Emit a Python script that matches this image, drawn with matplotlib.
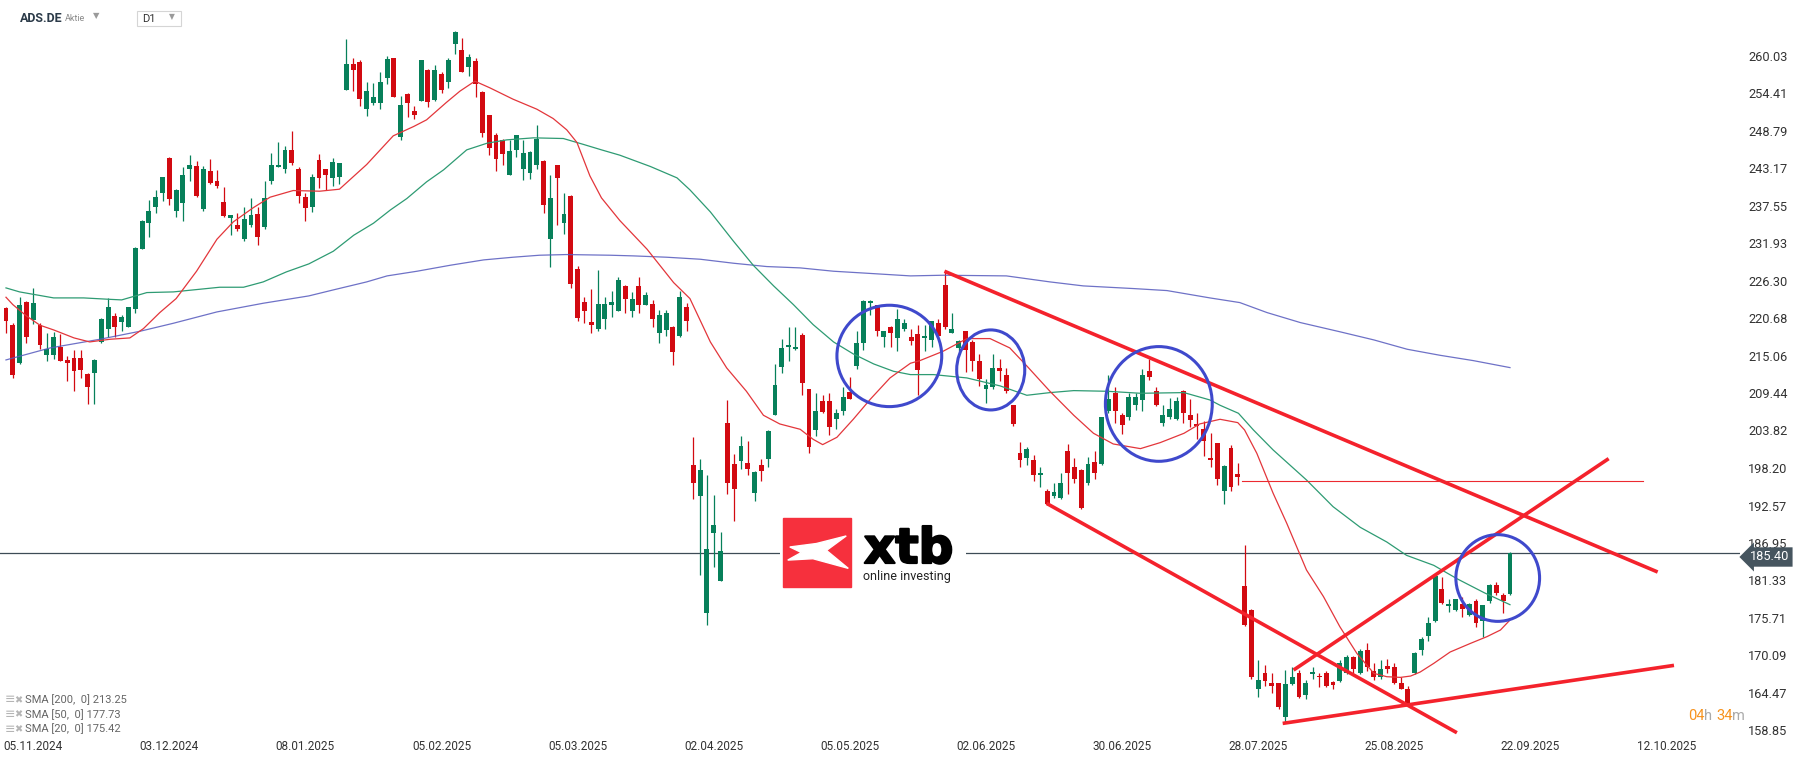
import numpy as np
import matplotlib
matplotlib.use('Agg')
import matplotlib.pyplot as plt
import matplotlib.patheffects as pe
from matplotlib.patches import Ellipse, Rectangle, Polygon

plt.rcParams['font.family'] = ['Roboto', 'DejaVu Sans']

# daily candles ADS.DE, index 0 = 30.10.2024
opens = [222.2, 219.7, 213.9, 223.1, 220.4, 219.7, 215.2, 215.2, 216.3, 214.4,
         214.7, 214.7, 212.3, 212.4, 217.1, 219.1, 221.0, 220.1, 219.4, 222.1,
         231.1, 235.0, 237.3, 239.5, 244.7, 236.8, 238.0, 243.0, 243.5, 237.0,
         242.7, 241.3, 238.1, 235.7, 234.7, 232.6, 234.6, 236.3, 234.3, 241.3,
         243.4, 243.0, 245.9, 243.0, 238.9, 237.4, 244.4, 243.0, 241.7, 241.8,
         254.9, 258.8, 259.1, 252.1, 253.0, 253.0, 256.7, 259.6, 247.9, 254.3,
         251.8, 253.3, 257.9, 253.4, 257.2, 256.1, 261.8, 260.8, 258.3, 259.2,
         254.6, 251.1, 248.1, 247.4, 242.2, 245.9, 243.0, 242.5, 243.6, 244.3,
         232.6, 243.6, 234.9, 239.0, 228.0, 223.1, 220.1, 219.1, 220.6, 222.7,
         221.8, 225.5, 221.7, 225.5, 222.7, 222.8, 218.4, 218.9, 219.4, 218.0,
         222.3, 198.7, 194.0, 176.5, 188.4, 181.3, 204.9, 198.8, 199.2, 199.0,
         194.4, 198.7, 199.5, 206.2, 213.3, 216.3, 216.0, 218.1, 210.0, 203.9,
         208.2, 208.2, 205.6, 206.8, 209.6, 213.5, 216.9, 222.9, 222.6, 217.8,
         219.4, 217.7, 219.1, 217.8, 218.3, 217.7, 217.4, 220.0, 225.7, 218.5,
         216.2, 218.7, 217.1, 214.3, 210.0, 210.4, 213.2, 212.2, 207.6, 200.5,
         199.7, 199.4, 197.1, 194.7, 194.0, 193.7, 200.8, 198.4, 197.9, 195.9,
         199.1, 198.8, 206.7, 209.4, 206.1, 205.9, 207.6, 208.4, 212.7, 209.8,
         204.9, 205.8, 205.6, 209.8, 206.2, 204.8, 204.1, 199.7, 202.0, 194.8,
         201.2, 197.3, 180.5, 176.9, 165.0, 167.5, 166.0, 165.9, 160.8, 165.8,
         167.5, 164.1, 167.3, 167.0, 167.4, 166.1, 166.3, 167.4, 169.8, 167.4,
         170.9, 167.8, 166.8, 168.5, 168.3, 166.0, 165.1, 167.4, 170.9, 173.0,
         175.3, 180.1, 177.5, 176.9, 177.8, 176.1, 178.3, 175.3, 178.2, 180.7,
         179.2, 179.3]
highs = [222.4, 219.9, 223.9, 223.3, 225.2, 220.0, 218.4, 218.6, 218.3, 215.0,
         215.9, 215.9, 212.4, 214.6, 220.7, 223.7, 221.5, 221.2, 222.4, 231.4,
         235.4, 238.4, 239.9, 241.9, 244.8, 240.0, 243.4, 245.2, 244.2, 243.5,
         244.5, 242.9, 240.4, 236.2, 236.5, 237.3, 238.7, 237.3, 241.3, 245.5,
         247.1, 246.5, 248.7, 243.4, 239.5, 242.3, 245.3, 243.1, 244.7, 244.0,
         262.5, 259.6, 259.4, 256.1, 255.9, 257.5, 260.0, 259.7, 254.0, 254.4,
         252.5, 259.4, 258.0, 258.6, 257.6, 259.6, 263.7, 262.6, 260.2, 259.6,
         254.7, 251.2, 248.5, 247.5, 247.4, 248.2, 247.4, 245.7, 249.6, 244.4,
         242.2, 243.7, 239.5, 239.1, 228.5, 223.8, 225.1, 227.9, 223.8, 224.7,
         226.8, 225.6, 224.6, 226.8, 224.6, 223.4, 221.9, 221.9, 219.5, 224.7,
         222.9, 202.8, 199.6, 197.2, 194.1, 188.6, 208.4, 200.3, 203.0, 202.2,
         197.7, 199.6, 203.9, 213.8, 217.5, 219.3, 219.3, 218.4, 210.1, 209.5,
         209.1, 209.5, 207.0, 210.3, 211.9, 218.7, 223.4, 223.4, 222.7, 218.8,
         219.5, 222.1, 220.5, 219.1, 219.7, 219.7, 220.3, 220.5, 227.7, 221.5,
         217.4, 218.8, 217.4, 215.3, 211.6, 215.3, 214.6, 213.2, 207.7, 202.1,
         201.4, 200.2, 198.4, 195.1, 196.0, 197.5, 201.8, 199.7, 198.0, 199.9,
         200.8, 205.9, 212.2, 210.3, 206.4, 209.4, 209.4, 213.1, 214.5, 210.4,
         207.6, 208.7, 208.8, 209.9, 208.5, 206.4, 205.2, 203.4, 202.0, 198.6,
         201.6, 199.0, 186.6, 177.0, 169.4, 168.6, 167.4, 166.0, 167.9, 168.3,
         167.9, 166.4, 168.4, 167.4, 167.8, 166.3, 169.4, 170.1, 170.0, 171.1,
         172.0, 169.0, 169.4, 169.5, 168.9, 166.9, 165.5, 170.6, 172.9, 175.8,
         182.2, 181.8, 178.6, 178.6, 178.9, 177.9, 178.6, 177.7, 180.8, 181.1,
         179.4, 185.6]
lows = [218.4, 211.7, 213.8, 216.9, 219.8, 216.1, 214.3, 214.6, 214.2, 211.3,
        209.8, 211.7, 207.8, 207.8, 217.0, 217.8, 217.8, 218.8, 219.3, 221.5,
        231.0, 232.8, 236.5, 238.3, 237.7, 235.9, 235.3, 241.2, 238.9, 236.8,
        240.8, 240.2, 235.9, 233.2, 233.8, 232.3, 234.4, 231.7, 234.1, 240.8,
        243.3, 242.5, 243.6, 238.0, 235.3, 236.6, 240.2, 239.9, 240.5, 240.8,
        254.8, 254.7, 252.5, 251.0, 252.7, 252.0, 255.8, 253.8, 247.4, 250.9,
        250.6, 253.2, 252.4, 253.2, 254.4, 255.2, 260.2, 257.5, 257.0, 253.8,
        247.9, 245.2, 242.7, 243.7, 242.1, 244.9, 241.4, 241.5, 243.1, 236.5,
        228.3, 234.7, 233.3, 225.2, 220.2, 219.9, 218.4, 218.8, 219.1, 220.8,
        221.7, 221.4, 220.8, 221.5, 222.6, 219.3, 216.9, 218.0, 213.7, 217.8,
        218.8, 193.5, 182.2, 174.7, 183.4, 181.3, 194.3, 190.2, 198.0, 197.2,
        193.2, 196.3, 198.3, 206.1, 212.4, 214.3, 215.9, 209.2, 200.4, 203.0,
        206.5, 203.1, 204.0, 206.2, 208.5, 213.1, 215.9, 221.2, 218.0, 216.3,
        216.3, 215.7, 218.8, 216.6, 209.1, 215.7, 216.3, 217.9, 219.0, 218.5,
        215.7, 212.6, 212.8, 210.5, 207.9, 210.1, 211.3, 209.5, 204.5, 198.4,
        198.7, 196.3, 195.3, 192.7, 193.7, 193.5, 194.3, 195.9, 192.1, 195.7,
        196.6, 198.7, 206.4, 204.9, 203.3, 205.4, 206.9, 206.7, 211.4, 207.5,
        204.5, 205.5, 205.4, 204.9, 204.3, 202.5, 200.0, 198.4, 195.7, 192.8,
        194.7, 195.7, 174.5, 166.5, 163.9, 165.5, 164.5, 162.0, 160.1, 165.7,
        163.7, 163.5, 166.6, 165.4, 165.4, 165.1, 166.1, 167.3, 167.5, 167.3,
        167.8, 166.4, 166.5, 167.4, 165.8, 165.0, 162.8, 167.3, 170.1, 172.3,
        175.1, 177.8, 176.6, 176.8, 175.8, 176.0, 174.4, 172.9, 178.0, 179.2,
        176.4, 179.1]
closes = [220.3, 212.2, 222.7, 217.8, 222.9, 216.7, 216.1, 217.8, 214.3, 214.0,
          212.7, 212.9, 210.3, 214.4, 220.6, 222.3, 219.4, 220.9, 222.3, 231.2,
          235.3, 236.7, 238.8, 241.8, 238.6, 239.9, 242.1, 243.7, 239.0, 243.0,
          241.0, 240.5, 236.0, 236.2, 234.0, 235.6, 236.2, 232.9, 238.7, 243.6,
          243.7, 245.9, 243.9, 239.0, 237.2, 241.8, 241.7, 242.2, 244.1, 243.9,
          258.8, 257.9, 253.5, 254.7, 253.8, 256.1, 259.5, 253.9, 252.6, 253.0,
          251.1, 259.3, 253.1, 257.8, 254.9, 259.3, 263.5, 257.6, 259.8, 255.7,
          248.5, 246.2, 244.5, 245.3, 245.8, 248.1, 245.5, 245.6, 247.6, 237.7,
          238.7, 241.7, 236.3, 225.8, 220.7, 221.8, 219.6, 222.8, 222.8, 223.1,
          226.4, 223.5, 223.5, 222.7, 224.2, 220.6, 221.2, 221.4, 215.6, 223.8,
          220.3, 195.9, 197.9, 186.1, 189.7, 185.7, 196.0, 195.0, 201.5, 198.1,
          197.6, 197.8, 203.7, 210.7, 216.2, 216.7, 216.4, 211.0, 201.4, 206.7,
          206.6, 204.4, 206.5, 208.8, 208.6, 216.9, 223.3, 223.2, 218.8, 218.7,
          218.5, 220.5, 220.0, 217.2, 212.9, 218.0, 220.2, 218.0, 219.4, 219.0,
          217.2, 215.9, 214.2, 211.6, 210.7, 213.2, 212.7, 209.7, 204.8, 199.4,
          201.1, 197.2, 197.5, 192.8, 194.6, 195.9, 197.5, 196.5, 192.2, 198.8,
          197.5, 205.8, 208.5, 206.7, 204.6, 208.8, 208.9, 212.2, 211.9, 207.6,
          206.1, 207.0, 208.2, 206.5, 205.4, 204.5, 202.3, 199.4, 196.6, 198.5,
          195.4, 196.9, 174.6, 166.8, 166.4, 166.3, 165.5, 162.4, 165.8, 166.8,
          163.8, 166.0, 167.5, 166.8, 165.5, 165.6, 169.0, 169.8, 168.0, 170.8,
          168.4, 166.8, 168.0, 168.0, 165.9, 165.1, 162.9, 170.5, 172.5, 174.9,
          182.0, 177.9, 177.8, 178.5, 177.0, 177.8, 174.9, 177.6, 180.6, 179.4,
          178.3, 185.4]

# moving averages (candle index, value)
sma20_idx = [0, 1, 3, 5, 7, 10, 12.3, 15.3, 18.2, 20.2, 22.6, 25, 28, 31, 33.4, 36.3, 38.8, 42.2, 46.1, 49,
             53, 56.9, 59.9, 61.8, 64.7, 66.7, 68.9, 71.1, 74.5, 78, 80.4, 82.4, 83.9, 85.8, 87.5, 90.2, 94.2,
             98.1, 100.5, 103.5, 105.9, 108.8, 111.3, 113.7, 116.7, 118.6, 120, 122.1, 124.5, 127, 129.9, 132.9,
             134.3, 137.7, 141.2, 144.6, 147.5, 150, 153.4, 156.9, 159.8, 162.7, 166.7, 169.6, 173.1, 175.4,
             178.4, 181, 182, 183.8, 186.2, 188.2, 191.1, 193.6, 196, 198.5, 201, 202.9, 204.9, 206.4, 207.8,
             209.8, 212.2, 215.2, 217.6, 219.6, 221]
sma20_val = [223.8, 222.7, 221.0, 219.6, 218.9, 217.7, 217.1, 217.5, 217.7, 219.1, 221.5, 223.6, 227.7, 232.5,
             235.1, 237.2, 238.8, 239.8, 239.7, 240.0, 243.7, 248.0, 249.4, 250.4, 253.0, 254.7, 256.2, 255.2,
             253.5, 252.0, 250.6, 248.9, 247.0, 242.0, 238.7, 235.3, 231.0, 226.0, 223.6, 217.1, 213.2, 209.7,
             206.1, 204.8, 204.0, 202.5, 201.7, 202.8, 205.5, 208.5, 211.7, 213.9, 214.3, 215.7, 217.6, 217.6,
             216.2, 213.5, 209.7, 206.1, 203.4, 201.8, 201.1, 202.0, 203.4, 204.8, 205.5, 205.0, 203.9, 200.4,
             194.4, 189.9, 182.9, 178.9, 174.4, 170.4, 167.4, 166.9, 166.8, 167.0, 167.6, 168.9, 170.6, 171.9,
             172.9, 173.9, 175.4]
sma50_idx = [0, 2, 7, 11.4, 15, 17, 20.7, 24.6, 28.5, 31.4, 34.9, 37.8, 41.2, 44.5, 48.1, 51.1, 54, 56.5, 58.9,
             61.8, 64.3, 67.7, 70.7, 73.6, 77.5, 81.9, 84.9, 87.5, 90.2, 94.7, 98.6, 100.5, 103.5, 106.9, 109.8,
             112.8, 115.7, 118.6, 121.6, 124.5, 127.5, 130.4, 132.9, 136.3, 141.2, 146.1, 150, 153.4, 156.9,
             161.8, 166.7, 173.1, 176.9, 178.4, 181.1, 183.3, 186.2, 191.1, 195, 199, 202.9, 205.8, 209.8,
             213.2, 217.2, 221]
sma50_val = [225.2, 224.6, 223.7, 223.7, 223.5, 223.4, 224.5, 224.6, 225.0, 225.3, 225.3, 226.1, 227.6, 228.8,
             230.7, 233.1, 234.9, 236.9, 238.6, 241.1, 242.9, 245.9, 246.9, 247.4, 247.7, 247.6, 246.7, 245.9,
             245.1, 243.4, 241.7, 239.9, 236.6, 232.2, 228.6, 225.5, 222.7, 219.7, 217.1, 215.3, 213.8, 212.7,
             212.2, 212.2, 211.7, 210.5, 209.1, 209.5, 209.8, 209.7, 209.4, 209.5, 208.4, 207.6, 206.4, 203.9,
             200.9, 196.4, 192.4, 189.3, 187.1, 185.1, 183.6, 181.6, 179.5, 177.7]
sma200_idx = [0, 6.5, 13.8, 19.7, 24.6, 31, 37.8, 44.5, 48.1, 53, 56, 60.4, 65.3, 70.2, 74.5, 78.4, 82.3, 88.8,
              92.2, 97.1, 102, 106.9, 111.8, 116.7, 121.6, 126.5, 132.9, 137.7, 147, 153.4, 158.3, 165.7, 170.6,
              176.9, 181.3, 185.3, 190.2, 196.1, 201, 205.9, 210.7, 215.6, 221]
sma200_val = [214.4, 216.2, 217.5, 218.7, 219.9, 221.6, 222.9, 224.0, 224.9, 226.1, 227.0, 227.7, 228.6, 229.4,
              229.8, 230.1, 230.2, 230.1, 230.0, 229.8, 229.5, 228.9, 228.4, 228.2, 227.7, 227.4, 227.0, 227.1,
              227.0, 226.1, 225.5, 225.1, 224.8, 223.7, 223.0, 221.5, 220.0, 218.6, 217.4, 216.0, 215.1, 214.3,
              213.25]

date_labels = ['05.11.2024', '03.12.2024', '08.01.2025', '05.02.2025', '05.03.2025', '02.04.2025',
               '05.05.2025', '02.06.2025', '30.06.2025', '28.07.2025', '25.08.2025', '22.09.2025', '12.10.2025']
price_ticks = [158.85, 164.47, 170.09, 175.71, 181.33, 186.95, 192.57, 198.20, 203.82, 209.44,
               215.06, 220.68, 226.30, 231.93, 237.55, 243.17, 248.79, 254.41, 260.03]
last_price = 185.40
legend_rows = [('SMA [200,  0]', 213.25), ('SMA [50,  0]', 177.73), ('SMA [20,  0]', 175.42)]

# drawn annotations (candle index, price)
trend_lines = [((137.9, 227.7), (242.7, 182.6)),
               ((152.9, 192.9), (213.2, 158.5)),
               ((189.2, 167.9), (235.5, 199.6)),
               ((187.6, 159.9), (245.1, 168.6))]
resistance = (196.3, 181.6, 240.6)
circles = [(129.8, 215.0, 15.4, 15.2), (144.7, 212.9, 10.0, 12.0),
           (169.4, 207.8, 15.7, 17.2), (219.2, 181.7, 12.3, 13.0)]

GREEN = '#07805a'
RED = '#d20a11'

W, H = 1815, 761
fig = plt.figure(figsize=(W / 100, H / 100), dpi=100)
fx = lambda px: px / W
fy = lambda py: 1 - py / H

ax = fig.add_axes([0, fy(737), fx(1740), 737 / H])
ax.set_xlim(-0.88, 254.8)
ax.set_ylim(157.86, 268.37)
for s in ax.spines.values():
    s.set_visible(False)

o, h, l, c = map(np.array, (opens, highs, lows, closes))
idx = np.arange(len(o))
col = np.where(c >= o, GREEN, RED)
ax.vlines(idx, l, h, colors=col, lw=0.9, zorder=2)
ax.bar(idx, np.maximum(np.abs(c - o), 0.25), bottom=np.minimum(o, c), width=0.72,
       color=col, lw=0, zorder=2)

ax.plot(sma200_idx, sma200_val, color='#5559bd', lw=0.9, alpha=0.85, zorder=3)
ax.plot(sma50_idx, sma50_val, color='#2e9b73', lw=0.9, zorder=3)
ax.plot(sma20_idx, sma20_val, color='#e3363b', lw=0.9, zorder=3)

ax.axhline(last_price, color='#3d4b56', lw=0.9, zorder=1.5)

for (x0, y0), (x1, y1) in trend_lines:
    ax.plot([x0, x1], [y0, y1], color='#f4222c', lw=2.6, solid_capstyle='butt', zorder=4)
ax.plot([resistance[1], resistance[2]], [resistance[0]] * 2, color='#ec2a30', lw=0.8, zorder=4)
for cx, cy, w, hh in circles:
    ax.add_patch(Ellipse((cx, cy), w, hh, fill=False, ec='#3f49cc', lw=2.2, zorder=5))

ax.set_xticks([4 + 20 * k for k in range(len(date_labels))])
ax.set_xticklabels(date_labels)
ax.yaxis.tick_right()
ax.set_yticks(price_ticks)
ax.set_yticklabels(['%.2f' % v for v in price_ticks])
ax.tick_params(axis='x', length=0, pad=2, labelsize=8.5, labelcolor='#333333')
ax.tick_params(axis='y', length=0, pad=6, labelsize=9.2, labelcolor='#333333')

# last price tag
fig.text(fx(1750), fy(557), '%.2f' % last_price, color='white', fontsize=9.2, va='center', ha='left',
         bbox=dict(boxstyle='larrow,pad=0.25', fc='#46555f', ec='none'))

# header
fig.text(fx(20), fy(18), 'ADS.DE', fontsize=9, fontweight='bold', color='#2c3b49', va='center')
fig.text(fx(65), fy(18.5), 'Aktie', fontsize=6.5, color='#8a8a8a', va='center')
fig.text(fx(93), fy(16), '\u25bc', fontsize=6, color='#9a9a9a', va='center')
fig.add_artist(Rectangle((fx(137), fy(26)), 44 / W, 15 / H, transform=fig.transFigure,
                         fill=False, ec='#d5d5d5', lw=0.8))
fig.text(fx(142), fy(19), 'D1', fontsize=8, color='#333333', va='center')
fig.text(fx(169), fy(17), '\u25bc', fontsize=5.5, color='#9a9a9a', va='center')

# indicator legend
for k, (name, val) in enumerate(legend_rows):
    yy = fy(700 + 14.5 * k)
    fig.text(fx(5), yy, '\u2261', fontsize=9, color='#b5b5b5', va='center')
    fig.text(fx(14), yy, '\u2716', fontsize=7, color='#b5b5b5', va='center')
    fig.text(fx(25), yy, '%s %.2f' % (name, val), fontsize=8, color='#666666', va='center')

# countdown
for xx, txt, cc in [(1688, '04', '#f7931e'), (1704, 'h', '#aaaaaa'), (1716, '34', '#f7931e'), (1732, 'm', '#aaaaaa')]:
    fig.text(fx(xx), fy(716), txt, fontsize=10.5, color=cc, va='center')

# xtb logo
lg = fig.add_axes([fx(780), fy(591), 186 / W, 76 / H])
lg.set_xlim(0, 186)
lg.set_ylim(76, 0)
lg.axis('off')
lg.add_patch(Rectangle((0, 0), 186, 76, color='white'))
lg.add_patch(Rectangle((3, 3), 68, 69, color='#f6303d'))
shape = [(0.10, 0.42), (0.49, 0.37), (0.93, 0.26), (0.64, 0.47), (0.96, 0.73),
         (0.44, 0.59), (0.07, 0.61), (0.27, 0.50)]
lg.add_patch(Polygon([(3 + 68 * u, 3 + 69 * v) for u, v in shape], color='white'))
lg.text(84, 48, 'xtb', fontsize=35, fontweight='heavy', color='black', va='baseline',
        family=['DejaVu Sans'], path_effects=[pe.withStroke(linewidth=1.6, foreground='black')])
lg.text(83, 65, 'online investing', fontsize=9, color='#222222', va='baseline')

fig.savefig('out.png', dpi=100, facecolor='white')
